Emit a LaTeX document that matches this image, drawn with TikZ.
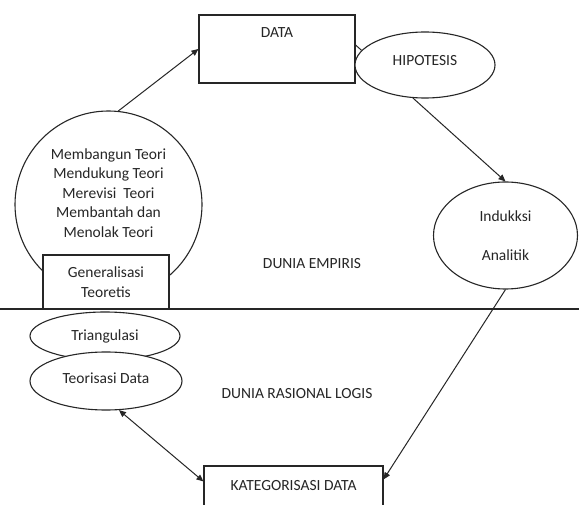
\documentclass[tikz,border=0pt]{standalone}
\usepackage{fontspec}
\setmainfont{Carlito}
\usepackage{tikz}
\usetikzlibrary{shapes.geometric, arrows.meta}
\definecolor{inkGray}{HTML}{262626}
\tikzset{
  block/.style={rectangle, draw=inkGray, fill=white, line width=1.1pt,
    align=center, inner sep=2pt},
  oval/.style={ellipse, draw=inkGray, fill=white, line width=1.1pt,
    align=center, inner sep=0pt},
  bubble/.style={circle, draw=inkGray, line width=1.1pt, inner sep=0pt},
  arrowline/.style={-{Triangle[length=7pt,width=6pt]}, line width=1pt, inkGray},
  plainline/.style={line width=1pt, inkGray},
  divider/.style={line width=1.3pt, inkGray},
}

\begin{document}
\begin{tikzpicture}[x=1pt, y=-1pt, font=\fontsize{15.5}{19.5}\selectfont,
    text=inkGray]
    \useasboundingbox[fill=white] (0,0) rectangle (579,505);
    \clip (0,0) rectangle (579,505);
    % upper half: dunia empiris
    \node[block, minimum width=156pt, minimum height=68pt,
          label={[anchor=base, yshift=-23pt]north:DATA}]
      (data) at (277,49) {};
    \node[oval, minimum width=140pt, minimum height=66pt, text depth=10pt]
      (hipo) at (425,65) {HIPOTESIS};
    \node[bubble, minimum size=187pt,
          label={[anchor=center, align=center, yshift=11.5pt]center:%
            Membangun Teori\\Mendukung Teori\\Merevisi~ Teori\\%
            Membantah dan\\Menolak Teori}]
      (teori) at (108.5,204.5) {};
    \node[block, minimum width=126pt, minimum height=54pt]
      (gen) at (106,282) {Generalisasi\\Teoretis};
    \node[oval, minimum width=144pt, minimum height=107pt]
      (induksi) at (505.5,235.5) {Indukksi\\[20pt]Analitik};
    \node (empiris) at (312,264) {DUNIA EMPIRIS};
    % border between the two worlds
    \draw[divider] (0,309) -- (579,309);
    % lower half: dunia rasional logis
    \node[oval, minimum width=150pt, minimum height=48pt]
      (tri) at (105,336) {Triangulasi};
    \node[oval, minimum width=152pt, minimum height=58pt, text depth=6pt]
      (teo) at (106,381) {Teorisasi Data};
    \node (rasional) at (297,394) {DUNIA RASIONAL LOGIS};
    \node[block, minimum width=179pt, minimum height=60pt,
          label={[anchor=base, yshift=-25pt]north:KATEGORISASI DATA}]
      (kat) at (293.5,496) {};
    % connectors
    \draw[arrowline] (teori.84) -- (data.west);
    \draw[plainline] ([yshift=4pt]data.east) -- (hipo.167);
    \draw[arrowline] (hipo.250) -- (induksi.north);
    \draw[arrowline] (induksi.south) -- ([yshift=-14pt]kat.north east);
    \draw[arrowline, {Triangle[length=7pt,width=6pt]}-{Triangle[length=7pt,width=6pt]}]
      (teo.294) -- ([yshift=-16pt]kat.north west);
\end{tikzpicture}
\end{document}
